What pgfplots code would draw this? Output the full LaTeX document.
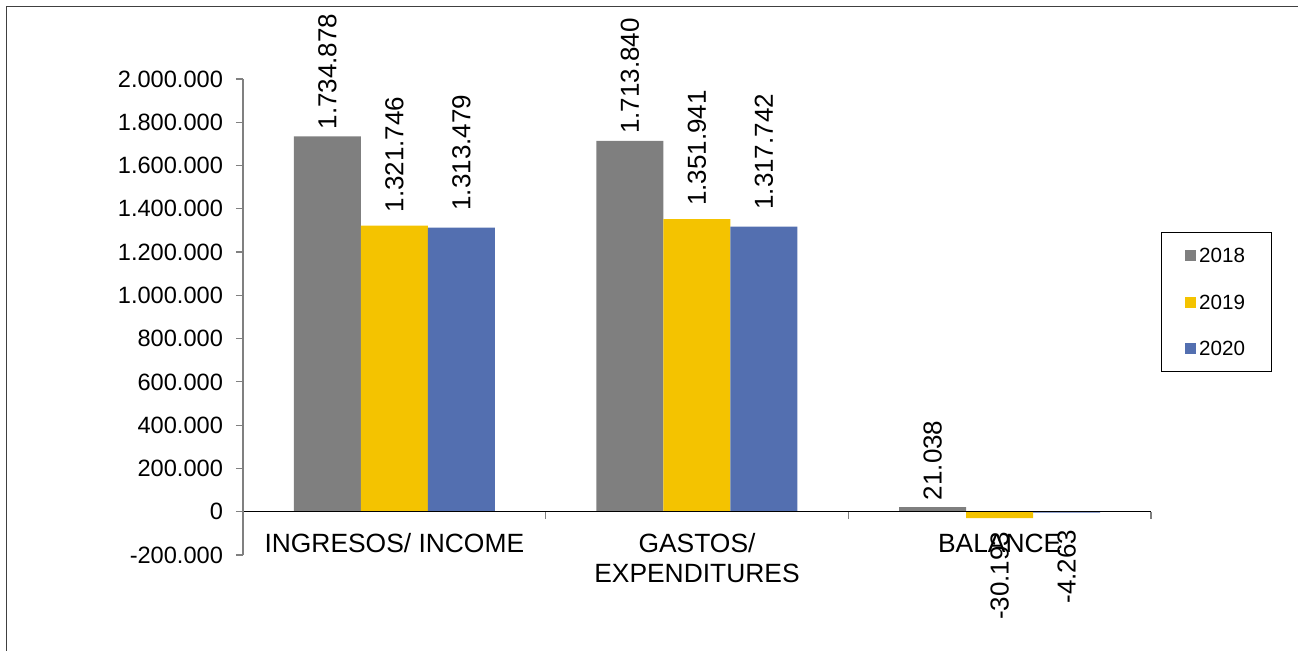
\documentclass[border=0pt]{standalone}
\usepackage{fontspec}
\setmainfont{Liberation Sans}
\usepackage{pgfplots}
\pgfplotsset{compat=1.18}
\definecolor{c18}{HTML}{7F7F7F}
\definecolor{c19}{HTML}{F4C300}
\definecolor{c20}{HTML}{536FB0}
\definecolor{framec}{HTML}{404040}
\begin{document}
\begin{tikzpicture}[x=1pt,y=1pt]
\useasboundingbox (-121.5,-48) rectangle (527.5,277.5);
\draw[framec, line width=0.9pt] (-118.25,-48) -- (-118.25,274.25) -- (527.5,274.25);
\begin{axis}[
  at={(0,0)}, anchor=south west,
  scale only axis, width=454pt, height=238pt,
  ybar=0pt, bar width=33.5pt,
  xmin=-0.5, xmax=2.5, ymin=-200000, ymax=2000000,
  axis y line=left, axis x line=middle,
  x axis line style={-, draw=black, line width=0.5pt},
  y axis line style={-, draw=gray, line width=0.6pt},
  clip=false, axis on top,
  /pgf/number format/.cd, fixed, precision=0, 1000 sep={.}, assume math mode=true, /pgfplots/.cd,
  scaled y ticks=false,
  ytick={-200000,0,200000,400000,600000,800000,1000000,1200000,1400000,1600000,1800000,2000000},
  tick align=outside,
  major tick length=3.5pt,
  y tick style={draw=gray, line width=0.6pt},
  yticklabel style={font=\fontsize{11.8}{14}\selectfont, xshift=-3pt},
  xtick={-0.5,0.5,1.5,2.5},
  xticklabels={,,,},
  x tick style={draw=gray, line width=0.6pt},
  extra x ticks={0,1,2},
  extra x tick labels={INGRESOS/ INCOME,{GASTOS/\\EXPENDITURES},BALANCE},
  extra x tick style={major tick length=0pt, xticklabel style={align=center, font=\fontsize{13.2}{15}\selectfont, yshift=-7.5pt}},
  nodes near coords={\pgfmathprintnumber{\pgfplotspointmeta}},
  nodes near coords style={font=\fontsize{13}{15}\selectfont, rotate=90, /utils/exec={\pgfmathfloatifflags{\pgfplotspointmeta}{-}{\pgfkeysalso{/tikz/anchor=east}}{\pgfkeysalso{/tikz/anchor=west}}}},
  legend style={at={(axis description cs:1.011,0.6786)}, anchor=north west, draw=black, line width=0.6pt, font=\fontsize{10.3}{12}\selectfont, inner xsep=11.5pt, inner ysep=6pt, row sep=12pt, nodes={inner xsep=1.8pt, inner ysep=2pt, text depth=0pt}},
  legend cell align=left,
]
\addplot[fill=c18, draw=none, legend image code/.code={\fill[c18] (0pt,-2.75pt) rectangle (5.5pt,2.75pt);}] coordinates {(0,1734878) (1,1713840) (2,21038)};
\addplot[fill=c19, draw=none, nodes near coords style={inner xsep=6.5pt}, legend image code/.code={\fill[c19] (0pt,-2.75pt) rectangle (5.5pt,2.75pt);}] coordinates {(0,1321746) (1,1351941) (2,-30193)};
\addplot[fill=c20, draw=none, nodes near coords style={inner xsep=8.3pt}, legend image code/.code={\fill[c20] (0pt,-2.75pt) rectangle (5.5pt,2.75pt);}] coordinates {(0,1313479) (1,1317742) (2,-4263)};
\legend{2018,2019,2020}
\end{axis}
\end{tikzpicture}
\end{document}
